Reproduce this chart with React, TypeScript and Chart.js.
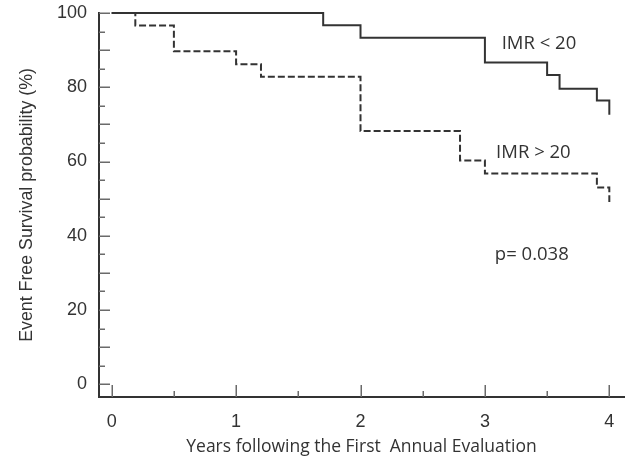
import React, { useEffect, useRef } from "react";
import { Chart, registerables } from "chart.js";

Chart.register(...registerables);

// Kaplan-Meier steps (years, event free survival %)
const imrLowYears = [0, 1.7, 2.0, 3.0, 3.5, 3.6, 3.9, 4.0];
const imrLowSurvival = [100, 96.7, 93.3, 86.7, 83.3, 79.6, 76.4, 72.6];
const imrHighYears = [0, 0.19, 0.5, 1.0, 1.2, 2.0, 2.8, 3.0, 3.9, 4.0];
const imrHighSurvival = [100, 96.6, 89.7, 86.2, 82.8, 68.2, 60.3, 56.8, 53.0, 49.1];

const seriesNames = ["IMR < 20", "IMR > 20"];
const pValueText = "p= 0.038";

const xTickLabels = [0, 1, 2, 3, 4];
const xMinorTicks = [0.5, 1.5, 2.5, 3.5];
const yTickLabels = [0, 20, 40, 60, 80, 100];
const yMajorTicks = [0, 10, 20, 30, 40, 50, 60, 70, 80, 90, 100];
const yMinorTicks = [5, 15, 25, 35, 45, 55, 65, 75, 85, 95];

const xTitle = "Years following the First  Annual Evaluation";
const yTitle = "Event Free Survival probability (%)";

const INK = "#333333";
const ANNOT_FONT = "'Open Sans', sans-serif";
const AXIS_FONT = "'Liberation Sans', Arial, sans-serif";

const ticksPlugin = {
  id: "innerTicks",
  afterDraw(chart: any) {
    const { ctx, scales } = chart;
    const xs = scales.x;
    const ys = scales.y;
    const axisX = chart.chartArea.left;
    const axisY = chart.chartArea.bottom;
    ctx.save();
    ctx.strokeStyle = "#6a6a6a";
    ctx.lineWidth = 1.5;
    ctx.beginPath();
    yMajorTicks.forEach((v) => {
      const p = Math.round(ys.getPixelForValue(v)) + 0.25;
      ctx.moveTo(axisX, p);
      ctx.lineTo(axisX + 11, p);
    });
    yMinorTicks.forEach((v) => {
      const p = Math.round(ys.getPixelForValue(v)) + 0.25;
      ctx.moveTo(axisX, p);
      ctx.lineTo(axisX + 6, p);
    });
    xTickLabels.forEach((v) => {
      const p = Math.round(xs.getPixelForValue(v)) + 0.25;
      ctx.moveTo(p, axisY);
      ctx.lineTo(p, axisY - 12);
    });
    xMinorTicks.forEach((v) => {
      const p = Math.round(xs.getPixelForValue(v)) + 0.25;
      ctx.moveTo(p, axisY);
      ctx.lineTo(p, axisY - 6);
    });
    ctx.stroke();

    // annotations
    ctx.fillStyle = INK;
    ctx.font = `18.5px ${ANNOT_FONT}`;
    ctx.textAlign = "left";
    ctx.textBaseline = "middle";
    ctx.fillText(seriesNames[0], xs.getPixelForValue(3.135), ys.getPixelForValue(91.7));
    ctx.fillText(seriesNames[1], xs.getPixelForValue(3.09), ys.getPixelForValue(62.4));
    ctx.fillText(pValueText, xs.getPixelForValue(3.08), ys.getPixelForValue(34.8));
    ctx.restore();
  },
};

function toPoints(xs: number[], ys: number[]) {
  return xs.map((x, i) => ({ x, y: ys[i] }));
}

export default function App() {
  const ref = useRef<HTMLCanvasElement | null>(null);

  useEffect(() => {
    if (!ref.current) return;
    const chart = new Chart(ref.current, {
      type: "line",
      data: {
        datasets: [
          {
            label: seriesNames[0],
            data: toPoints(imrLowYears, imrLowSurvival),
            stepped: "before",
            borderColor: INK,
            borderWidth: 2,
            pointRadius: 0,
            fill: false,
            clip: false,
          },
          {
            label: seriesNames[1],
            data: toPoints(imrHighYears, imrHighSurvival),
            stepped: "before",
            borderColor: INK,
            borderWidth: 2,
            borderDash: [7, 3],
            pointRadius: 0,
            fill: false,
            clip: false,
          },
        ],
      },
      options: {
        animation: false,
        responsive: true,
        maintainAspectRatio: false,
        layout: { padding: { top: 13, right: 2, left: 0, bottom: 0 } },
        plugins: { legend: { display: false }, tooltip: { enabled: false } },
        scales: {
          x: {
            type: "linear",
            min: -0.102,
            max: 4.118,
            afterFit: (s: any) => {
              s.height = 67;
              s.paddingLeft = 0;
              s.paddingRight = 0;
            },
            afterBuildTicks: (s: any) => {
              s.ticks = xTickLabels.map((v) => ({ value: v }));
            },
            grid: { display: false, drawTicks: false },
            border: { display: true, color: "#333", width: 2 },
            ticks: {
              color: "#333",
              padding: 14,
              font: { family: AXIS_FONT, size: 18 },
              callback: (v: any) => String(v),
            },
            title: {
              display: true,
              text: xTitle,
              color: "#333",
              padding: { bottom: 6 },
              font: { family: ANNOT_FONT, size: 17.5 },
            },
          },
          y: {
            type: "linear",
            min: -3.43,
            max: 100,
            afterFit: (s: any) => {
              s.width = 99;
              s.paddingTop = 0;
              s.paddingBottom = 0;
            },
            afterBuildTicks: (s: any) => {
              s.ticks = yTickLabels.map((v) => ({ value: v }));
            },
            grid: { display: false, drawTicks: false },
            border: { display: true, color: "#333", width: 2 },
            ticks: {
              color: "#333",
              padding: 12,
              font: { family: AXIS_FONT, size: 18 },
              callback: (v: any) => String(v),
            },
            title: {
              display: true,
              text: yTitle,
              color: "#333",
              padding: { top: 16 },
              font: { family: AXIS_FONT, size: 17.8 },
            },
          },
        },
      },
      plugins: [ticksPlugin],
    });
    return () => chart.destroy();
  }, []);

  return (
    <div style={{ position: "fixed", left: 0, top: 0, width: 626, height: 464, background: "#fff" }}>
      <canvas ref={ref} />
    </div>
  );
}
